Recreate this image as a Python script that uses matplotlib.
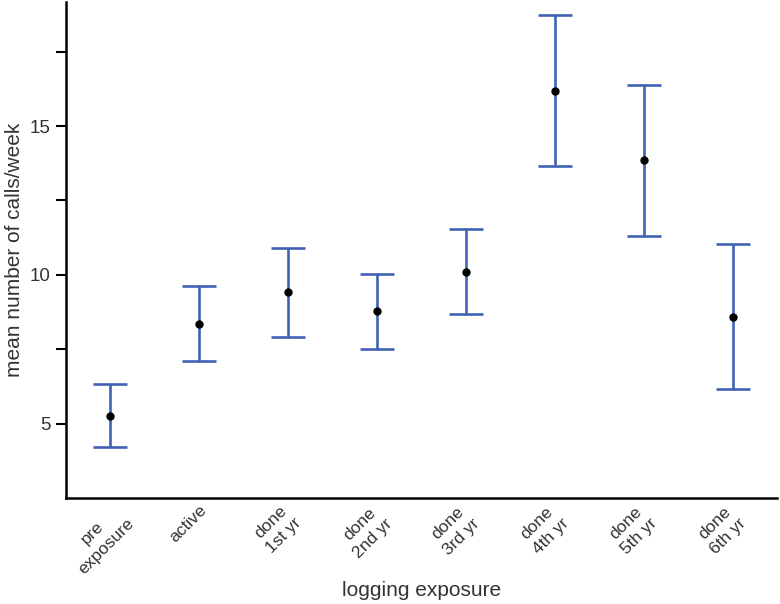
import numpy as np
import matplotlib
matplotlib.use('Agg')
import matplotlib.pyplot as plt
import matplotlib.transforms as mtransforms

# data
categories = ['pre\nexposure', 'active', 'done\n1st yr', 'done\n2nd yr', 'done\n3rd yr',
              'done\n4th yr', 'done\n5th yr', 'done\n6th yr']
means = [5.27, 8.36, 9.41, 8.78, 10.10, 16.18, 13.87, 8.60]
lower = [4.22, 7.10, 7.92, 7.51, 8.67, 13.66, 11.31, 6.17]
upper = [6.33, 9.64, 10.90, 10.04, 11.54, 18.74, 16.39, 11.04]

plt.rcParams['font.family'] = ['Liberation Sans', 'DejaVu Sans']

fig = plt.figure(figsize=(7.8, 6.04), dpi=100)
ax = fig.add_axes([66 / 780, 106 / 604, 711 / 780, 496 / 604])

x = np.arange(len(categories))
m = np.array(means)
yerr = np.vstack([m - np.array(lower), np.array(upper) - m])

ax.errorbar(x, m, yerr=yerr, fmt='none', ecolor='#3f62b3', elinewidth=1.9,
            capsize=12, capthick=1.9)
ax.plot(x, m, 'o', color='black', markersize=5)

ax.set_xlim(-0.5, 7.5)
ax.set_ylim(2.5, 19.17)
ax.set_yticks([5, 10, 15])
ax.set_yticks([7.5, 12.5, 17.5], minor=True)
ax.tick_params(axis='y', which='both', direction='out', length=7, width=1.5,
               labelsize=13.5, pad=4, colors='black')
ax.tick_params(axis='y', which='major', labelcolor='#333333')

ax.set_xticks(x)
ax.set_xticklabels(categories, rotation=45, ha='center', va='top',
                   fontsize=12.5, color='#333333', linespacing=1.35)
ax.tick_params(axis='x', length=0, pad=3)
offset = mtransforms.ScaledTranslation(-11 / 100, 0, fig.dpi_scale_trans)
for lab in ax.get_xticklabels():
    lab.set_transform(lab.get_transform() + offset)

for s in ['top', 'right']:
    ax.spines[s].set_visible(False)
for s in ['left', 'bottom']:
    ax.spines[s].set_linewidth(1.8)

ax.set_ylabel('mean number of calls/week', fontsize=15, color='#333333', labelpad=4)
ax.set_xlabel('logging exposure', fontsize=15, color='#333333')
ax.xaxis.set_label_coords(0.5, -0.168)

fig.savefig('out.png', dpi=100)
